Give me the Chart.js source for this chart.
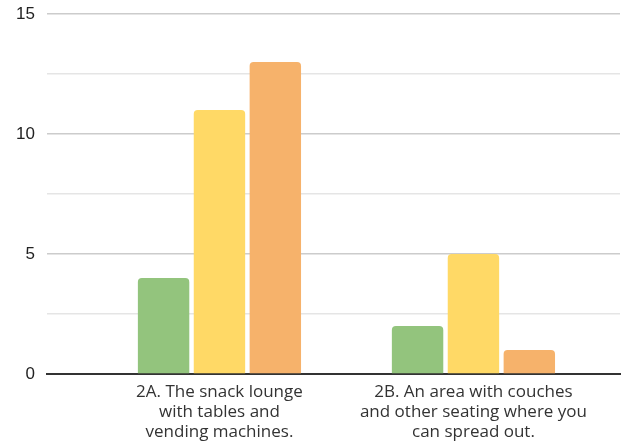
<!DOCTYPE html>
<html>
<head>
<meta charset="utf-8">
<script src="https://cdn.jsdelivr.net/npm/chart.js@4/dist/chart.umd.min.js"></script>
<style>
  html, body { margin: 0; padding: 0; background: #fff; }
  #wrap { width: 635px; height: 441px; }
</style>
</head>
<body>
<div id="wrap"><canvas id="chart" width="635" height="441"></canvas></div>
<script>
// --- data ---
const categories = [
  ['2A. The snack lounge', 'with tables and', 'vending machines.'],
  ['2B. An area with couches', 'and other seating where you', 'can spread out.']
];
const seriesNames = ['Green', 'Yellow', 'Orange'];
const seriesColors = ['#93c47d', '#ffd966', '#f6b26b'];
const seriesValues = [
  [4, 2],
  [11, 5],
  [13, 1]
];
const yTicks = [0, 5, 10, 15];

const datasets = seriesNames.map((name, s) => ({
  label: name,
  data: seriesValues[s].map((v, i) => ({ x: i, y: v })),
  backgroundColor: seriesColors[s],
  borderRadius: 4,
  borderSkipped: 'start',
  categoryPercentage: 0.66,
  barPercentage: 0.92
}));

new Chart(document.getElementById('chart'), {
  type: 'bar',
  data: { datasets },
  options: {
    responsive: false,
    animation: false,
    layout: { padding: { top: 14, right: 15, left: 0, bottom: 0 } },
    plugins: { legend: { display: false }, tooltip: { enabled: false } },
    scales: {
      x: {
        type: 'linear',
        offset: false,
        min: -0.679,
        max: 1.577,
        grid: { display: false },
        border: { display: true, color: '#333333', width: 2 },
        afterBuildTicks: axis => { axis.ticks = categories.map((c, i) => ({ value: i })); },
        afterFit: axis => { axis.height = 67; axis.paddingLeft = 0; axis.paddingRight = 0; },
        ticks: {
          autoSkip: false,
          maxRotation: 0,
          padding: 0,
          color: '#333333',
          font: { family: '"Open Sans", sans-serif', size: 17, lineHeight: '20px' },
          callback: v => categories[v]
        }
      },
      y: {
        min: 0,
        max: 15,
        grid: {
          color: ctx => ctx.tick.value === 0 ? 'rgba(0,0,0,0)' :
            (yTicks.includes(ctx.tick.value) ? '#cccccc' : '#e5e5e5'),
          lineWidth: 1.5,
          drawTicks: false
        },
        border: { display: false },
        afterFit: axis => { axis.width = 47; axis.paddingTop = 0; axis.paddingBottom = 0; },
        ticks: {
          stepSize: 2.5,
          padding: 12,
          color: '#222222',
          font: { family: '"Liberation Sans", Arial, sans-serif', size: 17 },
          callback: v => yTicks.includes(v) ? String(v) : ''
        }
      }
    }
  }
});
</script>
</body>
</html>
